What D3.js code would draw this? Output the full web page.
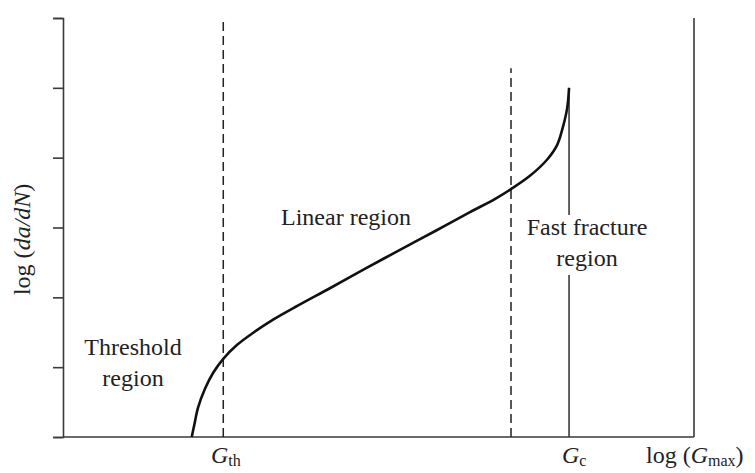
<!DOCTYPE html>
<html>
<head>
<meta charset="utf-8">
<script src="https://cdn.jsdelivr.net/npm/d3@7"></script>
<style>
  body { margin: 0; background: #fff; }
</style>
</head>
<body>
<svg id="chart" width="755" height="473"></svg>
<script>
// crack growth curve (x: log G, y: log da/dN, arbitrary units)
const curveX = [2.04, 2.08, 2.14, 2.25, 2.38, 2.54, 2.76, 3.01, 3.33, 3.72, 4.23, 4.79, 5.34, 5.90, 6.45, 6.85, 7.10, 7.40, 7.67, 7.83, 7.92, 7.99, 8.02];
const curveY = [0.00, 0.17, 0.42, 0.69, 0.92, 1.12, 1.32, 1.49, 1.68, 1.88, 2.13, 2.41, 2.68, 2.95, 3.22, 3.41, 3.55, 3.74, 3.97, 4.18, 4.43, 4.71, 5.00];
const yTicks = [0, 1, 2, 3, 4, 5, 6];
const gTh = 2.54;
const gC = 8.02;
const fastLine = 7.10;
const fastLineTop = 5.28;
const gcGap = [2.32, 3.18];

const serif = '"Liberation Serif", "Times New Roman", "DejaVu Serif", serif';

const svg = d3.select('#chart')
  .attr('font-family', serif);
const margin = { left: 63, right: 61, top: 18, bottom: 36 };
const width = 755, height = 473;

const x = d3.scaleLinear().domain([0, 10]).range([margin.left, width - margin.right]);
const y = d3.scaleLinear().domain([0, 6]).range([height - margin.bottom, margin.top]);

const axisColor = '#3a3a3a';

// left axis with ticks
const yAxis = d3.axisLeft(y).tickValues(yTicks).tickSize(10).tickFormat('');
const gy = svg.append('g')
  .attr('transform', `translate(${x(0)},0)`)
  .call(yAxis);
gy.selectAll('path, line').attr('stroke', axisColor).attr('stroke-width', 1.6);

// bottom axis, no ticks
svg.append('line')
  .attr('x1', x(0)).attr('x2', x(10))
  .attr('y1', y(0)).attr('y2', y(0))
  .attr('stroke', axisColor).attr('stroke-width', 1.6);

// right border
svg.append('line')
  .attr('x1', x(10)).attr('x2', x(10))
  .attr('y1', y(0)).attr('y2', y(6))
  .attr('stroke', axisColor).attr('stroke-width', 1.6);

// dashed region boundaries
svg.append('line')
  .attr('x1', x(gTh)).attr('x2', x(gTh))
  .attr('y1', y(0)).attr('y2', y(6))
  .attr('stroke', '#222').attr('stroke-width', 1.5)
  .attr('stroke-dasharray', '9,5');

svg.append('line')
  .attr('x1', x(fastLine)).attr('x2', x(fastLine))
  .attr('y1', y(0)).attr('y2', y(fastLineTop))
  .attr('stroke', '#222').attr('stroke-width', 1.5)
  .attr('stroke-dasharray', '9,5');

// Gc vertical line, broken around the label
svg.append('line')
  .attr('x1', x(gC)).attr('x2', x(gC))
  .attr('y1', y(5)).attr('y2', y(gcGap[1]))
  .attr('stroke', axisColor).attr('stroke-width', 1.6);
svg.append('line')
  .attr('x1', x(gC)).attr('x2', x(gC))
  .attr('y1', y(gcGap[0])).attr('y2', y(0))
  .attr('stroke', axisColor).attr('stroke-width', 1.6);

// the curve
const pts = curveX.map((d, i) => [d, curveY[i]]);
const line = d3.line()
  .x(d => x(d[0]))
  .y(d => y(d[1]))
  .curve(d3.curveCatmullRom.alpha(0.5));

svg.append('path')
  .datum(pts)
  .attr('d', line)
  .attr('fill', 'none')
  .attr('stroke', '#111')
  .attr('stroke-width', 2.6);

// region labels
const fs = 24;
function label(lines, cx, baseline) {
  const t = svg.append('text')
    .attr('text-anchor', 'middle')
    .attr('font-size', fs)
    .attr('fill', '#222');
  lines.forEach((s, i) => {
    t.append('tspan').attr('x', cx).attr('y', baseline + i * 31).text(s);
  });
}
label(['Threshold', 'region'], 133, 355);
label(['Linear region'], 346, 225);
label(['Fast fracture', 'region'], 587, 235);

// x axis labels
function gLabel(px, sub, prefix) {
  const t = svg.append('text').attr('x', px).attr('y', 463)
    .attr('font-size', fs).attr('fill', '#222');
  if (prefix) t.append('tspan').text(prefix);
  t.append('tspan').attr('font-style', 'italic').text('G');
  t.append('tspan').attr('font-size', 16).attr('dy', 3).text(sub);
  if (prefix) t.append('tspan').attr('dy', -3).text(')');
}
gLabel(211, 'th');
gLabel(562, 'c');
gLabel(646, 'max', 'log (');

// y axis label
const yl = svg.append('text')
  .attr('transform', `translate(30, ${y(2.83)}) rotate(-90)`)
  .attr('text-anchor', 'middle')
  .attr('font-size', fs)
  .attr('fill', '#222');
yl.append('tspan').text('log (');
yl.append('tspan').attr('font-style', 'italic').text('da/dN');
yl.append('tspan').text(')');
</script>
</body>
</html>
